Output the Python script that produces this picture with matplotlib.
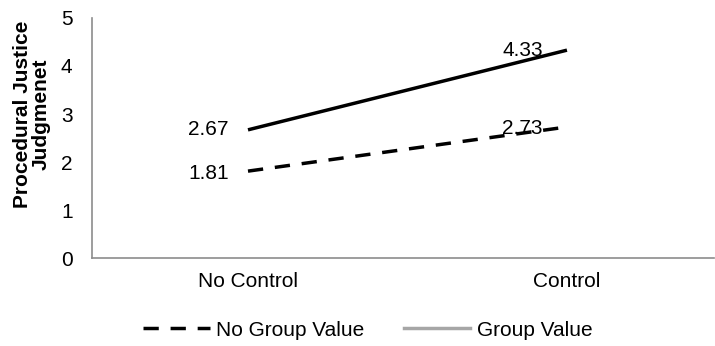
import matplotlib
matplotlib.use("Agg")
from matplotlib import pyplot as plt

plt.rcParams["font.family"] = ["Liberation Sans", "DejaVu Sans"]

# condition means
conditions = ["No Control", "Control"]
no_group_value = [1.81, 2.73]
group_value = [2.67, 4.33]

fs = 15
dash = (0, (4.4, 3.4))

fig = plt.figure(figsize=(7.15, 3.46), dpi=100)
ax = fig.add_axes([0.1287, 0.2543, 0.8699, 0.6937])

x = range(len(conditions))
ax.plot(x, no_group_value, color="black", lw=2.5, ls=dash, dash_capstyle="butt")
ax.plot(x, group_value, color="black", lw=2.5, solid_capstyle="butt")

# value labels, placed left of the points
ax.annotate(f"{group_value[0]:.2f}", (0, group_value[0]), xytext=(-14, 0),
            textcoords="offset points", ha="right", va="center", fontsize=fs)
ax.annotate(f"{no_group_value[0]:.2f}", (0, no_group_value[0]), xytext=(-14, -2),
            textcoords="offset points", ha="right", va="center", fontsize=fs)
ax.annotate(f"{group_value[1]:.2f}", (1, group_value[1]), xytext=(-32, 0),
            textcoords="offset points", ha="center", va="center", fontsize=fs)
ax.annotate(f"{no_group_value[1]:.2f}", (1, no_group_value[1]), xytext=(-32, -1),
            textcoords="offset points", ha="center", va="center", fontsize=fs)

ax.set_xlim(-0.489, 1.461)
ax.set_ylim(0, 5)
ax.set_yticks([0, 1, 2, 3, 4, 5])
ax.set_xticks(list(x))
ax.set_xticklabels(conditions)
ax.tick_params(length=0, labelsize=fs)
ax.tick_params(axis="y", pad=14)
ax.tick_params(axis="x", pad=10)
for s in ["top", "right"]:
    ax.spines[s].set_visible(False)
for s in ["left", "bottom"]:
    ax.spines[s].set_color("#8c8c8c")
    ax.spines[s].set_linewidth(1.2)

ax.set_ylabel("Procedural Justice\nJudgmenet", fontsize=fs, fontweight="bold",
              linespacing=1.0, labelpad=7, y=0.6)

# legend entries
h1, = ax.plot([], [], color="black", lw=2.5, ls=dash)
h2, = ax.plot([], [], color="#a6a6a6", lw=2.5)
fig.legend([h1, h2], ["No Group Value", "Group Value"], loc="center",
           bbox_to_anchor=(0.514, 0.046), ncol=2, frameon=False, fontsize=fs,
           handlelength=3.2, columnspacing=1.9, handletextpad=0.3)

fig.savefig("out.png", dpi=100)
